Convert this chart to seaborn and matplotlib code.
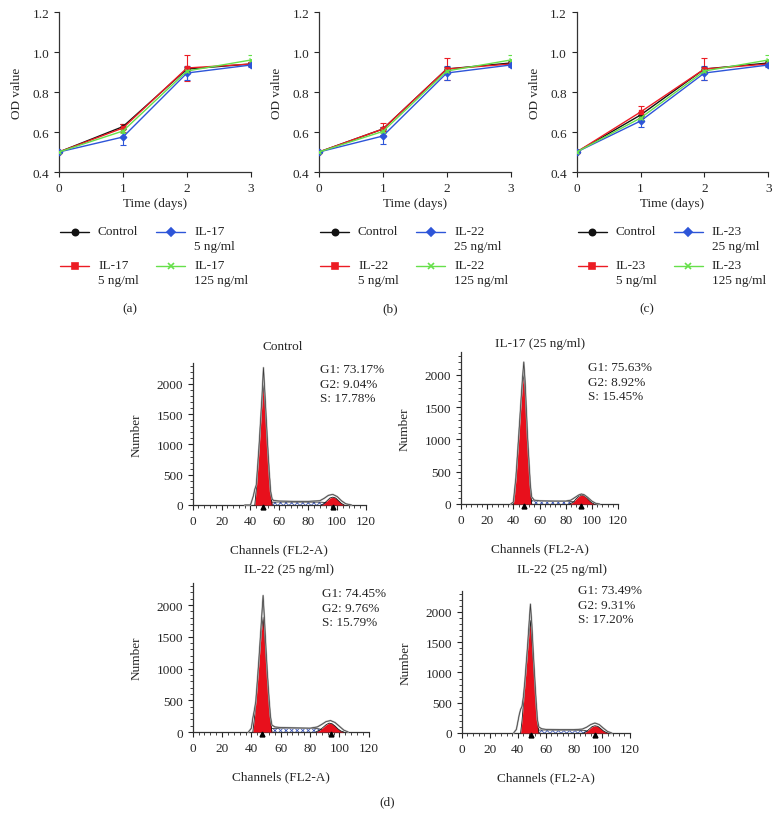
import numpy as np
import pandas as pd
import matplotlib
matplotlib.use('Agg')
import matplotlib.pyplot as plt
from matplotlib.lines import Line2D
from matplotlib.ticker import MultipleLocator
import seaborn as sns

# ---- dados: curvas de proliferacao (OD) ----
days = [0, 1, 2, 3]

a_ctrl = [0.50, 0.627, 0.915, 0.940]
a_low = [0.50, 0.620, 0.920, 0.940]
a_mid = [0.50, 0.575, 0.895, 0.935]
a_high = [0.50, 0.605, 0.905, 0.960]
a_ctrl_err = [0, 0.012, 0.010, 0.010]
a_low_err = [0, 0.020, 0.065, 0.008]
a_mid_err = [0, 0.040, 0.035, 0.008]
a_high_err = [0, 0.010, 0.012, 0.025]

b_ctrl = [0.50, 0.615, 0.915, 0.945]
b_low = [0.50, 0.615, 0.915, 0.940]
b_mid = [0.50, 0.580, 0.895, 0.935]
b_high = [0.50, 0.603, 0.905, 0.960]
b_ctrl_err = [0, 0.010, 0.010, 0.010]
b_low_err = [0, 0.030, 0.055, 0.008]
b_mid_err = [0, 0.040, 0.035, 0.008]
b_high_err = [0, 0.010, 0.012, 0.025]

c_ctrl = [0.50, 0.685, 0.915, 0.945]
c_low = [0.50, 0.700, 0.915, 0.940]
c_mid = [0.50, 0.655, 0.895, 0.935]
c_high = [0.50, 0.670, 0.905, 0.960]
c_ctrl_err = [0, 0.015, 0.010, 0.010]
c_low_err = [0, 0.030, 0.055, 0.008]
c_mid_err = [0, 0.030, 0.035, 0.008]
c_high_err = [0, 0.012, 0.012, 0.025]

a_labels = ['Control', 'IL-17\n5 ng/ml', 'IL-17\n5 ng/ml', 'IL-17\n125 ng/ml']
b_labels = ['Control', 'IL-22\n5 ng/ml', 'IL-22\n25 ng/ml', 'IL-22\n125 ng/ml']
c_labels = ['Control', 'IL-23\n5 ng/ml', 'IL-23\n25 ng/ml', 'IL-23\n125 ng/ml']

# ---- dados: histogramas do ciclo celular ----
ctrl_raw_x = [36, 40, 42, 43, 44, 45, 46, 47, 48, 49, 50, 51, 52, 53, 54, 55, 56, 60, 70, 80, 88, 91, 94, 97, 100, 103, 106, 110]
ctrl_raw_y = [0, 0, 150, 260, 330, 650, 1000, 1400, 1800, 2270, 1850, 1400, 950, 550, 220, 100, 75, 65, 60, 60, 70, 110, 160, 175, 140, 70, 20, 0]
ctrl_g1_x = [43, 44, 45, 46, 47, 48, 49, 50, 51, 52, 53, 54, 55]
ctrl_g1_y = [0, 250, 600, 950, 1350, 1700, 2010, 1700, 1300, 900, 520, 200, 0]
ctrl_g2_x = [89, 91, 93, 95, 97, 99, 101, 103, 105]
ctrl_g2_y = [0, 25, 70, 115, 130, 115, 70, 25, 0]
ctrl_s_x = [47, 50, 54, 60, 70, 80, 88, 93, 97, 100]
ctrl_s_y = [0, 25, 45, 50, 48, 47, 48, 40, 20, 0]
ctrl_peaks = [49, 97]

il17_raw_x = [38, 40, 42, 44, 46, 47, 48, 49, 50, 51, 52, 53, 54, 56, 60, 70, 80, 84, 87, 90, 92, 94, 97, 100, 103, 106]
il17_raw_y = [0, 30, 420, 1020, 1650, 1950, 2200, 1900, 1450, 1000, 650, 300, 110, 60, 50, 45, 45, 60, 100, 140, 155, 145, 100, 45, 10, 0]
il17_g1_x = [40, 41, 42, 43, 44, 45, 46, 47, 48, 49, 50, 51, 52, 53, 54]
il17_g1_y = [0, 150, 400, 700, 1000, 1300, 1600, 1850, 2020, 1750, 1350, 950, 600, 250, 0]
il17_g2_x = [83, 86, 88, 90, 92, 94, 96, 98, 100, 102]
il17_g2_y = [0, 30, 80, 120, 140, 130, 100, 55, 20, 0]
il17_s_x = [45, 50, 54, 60, 70, 80, 86, 90, 95]
il17_s_y = [0, 30, 50, 50, 45, 40, 35, 20, 0]
il17_peaks = [48, 92]

il22_raw_x = [38, 40, 41, 42, 43, 44, 45, 46, 47, 48, 49, 50, 51, 52, 53, 54, 56, 60, 70, 80, 85, 88, 91, 94, 97, 100, 103, 106]
il22_raw_y = [0, 60, 220, 340, 480, 780, 1100, 1450, 1800, 2150, 1750, 1300, 900, 550, 250, 110, 80, 70, 65, 60, 80, 120, 165, 180, 150, 90, 30, 0]
il22_g1_x = [41, 42, 43, 44, 45, 46, 47, 48, 49, 50, 51, 52, 53, 54]
il22_g1_y = [0, 200, 450, 750, 1050, 1350, 1620, 1810, 1550, 1200, 850, 500, 200, 0]
il22_g2_x = [84, 87, 89, 91, 93, 95, 97, 99, 101, 103]
il22_g2_y = [0, 35, 75, 115, 140, 130, 95, 50, 15, 0]
il22_s_x = [44, 48, 52, 60, 70, 80, 86, 90, 95]
il22_s_y = [0, 25, 55, 60, 60, 58, 50, 30, 0]
il22_peaks = [47.5, 94]

il22b_raw_x = [37, 39, 40, 41, 42, 43, 44, 45, 46, 47, 48, 49, 50, 51, 52, 53, 54, 55, 57, 60, 70, 80, 86, 89, 92, 95, 98, 101, 104, 107]
il22b_raw_y = [0, 60, 180, 300, 390, 440, 600, 850, 1150, 1450, 1800, 2130, 1800, 1350, 950, 550, 220, 100, 70, 60, 55, 55, 65, 95, 140, 165, 140, 80, 25, 0]
il22b_g1_x = [42, 43, 44, 45, 46, 47, 48, 49, 50, 51, 52, 53, 54, 55]
il22b_g1_y = [0, 200, 480, 780, 1080, 1380, 1650, 1860, 1550, 1200, 850, 500, 200, 0]
il22b_g2_x = [87, 89, 91, 93, 95, 97, 99, 101, 103, 105]
il22b_g2_y = [0, 25, 65, 105, 120, 110, 75, 35, 10, 0]
il22b_s_x = [47, 52, 56, 60, 70, 80, 87, 91, 96]
il22b_s_y = [0, 35, 50, 50, 45, 45, 45, 25, 0]
il22b_peaks = [49.3, 95.3]

hist_titles = ['Control', 'IL-17 (25 ng/ml)', 'IL-22 (25 ng/ml)', 'IL-22 (25 ng/ml)']
ctrl_pct = ['G1: 73.17%', 'G2: 9.04%', 'S: 17.78%']
il17_pct = ['G1: 75.63%', 'G2: 8.92%', 'S: 15.45%']
il22_pct = ['G1: 74.45%', 'G2: 9.76%', 'S: 15.79%']
il22b_pct = ['G1: 73.49%', 'G2: 9.31%', 'S: 17.20%']

# ---- estilo ----
sns.set_style('ticks')
plt.rcParams['font.family'] = ['Liberation Serif', 'DejaVu Serif']
plt.rcParams['font.size'] = 9.5
plt.rcParams['axes.linewidth'] = 0.9
plt.rcParams['xtick.major.size'] = 3.5
plt.rcParams['ytick.major.size'] = 3.5
plt.rcParams['xtick.minor.size'] = 2
plt.rcParams['ytick.minor.size'] = 2
plt.rcParams['hatch.linewidth'] = 0.6

W, H = 780, 828
cores = ['#111111', '#ec1c24', '#2d55d8', '#66e04a']
marcadores = ['o', 's', 'D', 'x']

fig = plt.figure(figsize=(W / 100, H / 100), dpi=100)


def rect(l, r, t, b):
    return [l / W, 1 - b / H, (r - l) / W, (b - t) / H]


def fx(x):
    return x / W


def fy(y):
    return 1 - y / H


def painel_od(left, right, series, erros, labels, tag, tag_x):
    ax = fig.add_axes(rect(left, right, 13, 173))
    for vals, err, cor, mk in zip(series, erros, cores, marcadores):
        ax.errorbar(days, vals, yerr=err, fmt='none', ecolor=cor, elinewidth=0.8,
                    capsize=2.5, capthick=0.8, zorder=2)
        sns.lineplot(x=days, y=vals, color=cor, marker=mk, markersize=3.3, mec=cor,
                     mew=1, linewidth=1, ax=ax, zorder=3)
    ax.set_xlim(0, 3)
    ax.set_ylim(0.4, 1.2)
    ax.set_xticks([0, 1, 2, 3])
    ax.set_yticks([0.4, 0.6, 0.8, 1.0, 1.2])
    ax.set_yticklabels(['0.4', '0.6', '0.8', '1.0', '1.2'])
    ax.set_xlabel('Time (days)', labelpad=2)
    ax.set_ylabel('OD value', labelpad=7)
    sns.despine(ax=ax)
    for sp in ax.spines.values():
        sp.set_color('#333333')

    # legenda manual (2 colunas)
    pos = [(0, 233), (0, 267), (1, 233), (1, 267)]
    for (col, y), lab, cor, mk in zip(pos, labels, cores, marcadores):
        x0 = left + 1 + col * 96
        x1 = x0 + 29
        fig.add_artist(Line2D([fx(x0), fx(x1)], [fy(y), fy(y)], color=cor, lw=1,
                              transform=fig.transFigure))
        fig.add_artist(Line2D([fx((x0 + x1) / 2)], [fy(y)], color=cor, marker=mk,
                              ms=4.5, mec=cor, mew=1.2, transform=fig.transFigure))
        fig.text(fx(x1 + 9), fy(y - 7), lab, va='top', ha='left', linespacing=1.35)
    fig.text(fx(tag_x), fy(309), tag, ha='center', va='center')
    return ax


painel_od(59, 251, [a_ctrl, a_low, a_mid, a_high],
          [a_ctrl_err, a_low_err, a_mid_err, a_high_err], a_labels, '(a)', 130)
painel_od(319, 510.7, [b_ctrl, b_low, b_mid, b_high],
          [b_ctrl_err, b_low_err, b_mid_err, b_high_err], b_labels, '(b)', 390)
painel_od(576.7, 768.3, [c_ctrl, c_low, c_mid, c_high],
          [c_ctrl_err, c_low_err, c_mid_err, c_high_err], c_labels, '(c)', 647)


def painel_hist(box, raw, g1, g2, s, peaks, titulo, tit_xy, pct, pct_xy):
    ax = fig.add_axes(rect(*box))
    ax.fill_between(s[0], s[1], 0, facecolor='white', edgecolor='#3d58b8',
                    hatch='xxxxxx', linewidth=0, zorder=1)
    ax.plot(s[0], s[1], color='#333333', lw=0.6, zorder=2)
    for xs, ys in (g1, g2):
        ax.fill_between(xs, ys, 0, color='#e8101c', linewidth=0, zorder=3)
        ax.plot(xs, ys, color='#1a1a1a', lw=0.6, zorder=4)
    sns.lineplot(x=raw[0], y=raw[1], color='#b5b5b5', lw=1.3, ax=ax, zorder=5,
                 sort=False)
    sns.lineplot(x=raw[0], y=raw[1], color='#3a3a3a', lw=0.5, ax=ax, zorder=6,
                 sort=False)
    for ln in ax.lines:
        ln.set_clip_on(False)
    ax.plot(peaks, [-25] * len(peaks), '^', color='black', ms=3.5, clip_on=False,
            zorder=7)
    ax.set_xlim(0, 120)
    ax.set_ylim(0, 2350)
    ax.set_xticks(np.arange(0, 121, 20))
    ax.set_yticks([0, 500, 1000, 1500, 2000])
    ax.xaxis.set_minor_locator(MultipleLocator(4))
    ax.yaxis.set_minor_locator(MultipleLocator(100))
    ax.set_xlabel('Channels (FL2-A)', labelpad=12)
    ax.set_ylabel('Number', labelpad=10)
    sns.despine(ax=ax)
    for sp in ax.spines.values():
        sp.set_color('#333333')
    fig.text(fx(tit_xy[0]), fy(tit_xy[1]), titulo, ha='center', va='center')
    for i, t in enumerate(pct):
        fig.text(fx(pct_xy[0]), fy(pct_xy[1] + 14.7 * i), t, ha='left', va='center')
    return ax


painel_hist((192.7, 366, 363.8, 506), (ctrl_raw_x, ctrl_raw_y), (ctrl_g1_x, ctrl_g1_y),
            (ctrl_g2_x, ctrl_g2_y), (ctrl_s_x, ctrl_s_y), ctrl_peaks,
            hist_titles[0], (283, 347), ctrl_pct, (320, 370))
painel_hist((461, 618, 353.4, 505), (il17_raw_x, il17_raw_y), (il17_g1_x, il17_g1_y),
            (il17_g2_x, il17_g2_y), (il17_s_x, il17_s_y), il17_peaks,
            hist_titles[1], (540, 344), il17_pct, (588, 368))
painel_hist((192.7, 368.7, 583.8, 733), (il22_raw_x, il22_raw_y), (il22_g1_x, il22_g1_y),
            (il22_g2_x, il22_g2_y), (il22_s_x, il22_s_y), il22_peaks,
            hist_titles[2], (289, 570), il22_pct, (322, 594))
painel_hist((461.7, 630, 591.8, 734), (il22b_raw_x, il22b_raw_y), (il22b_g1_x, il22b_g1_y),
            (il22b_g2_x, il22b_g2_y), (il22b_s_x, il22b_s_y), il22b_peaks,
            hist_titles[3], (562, 570), il22b_pct, (578, 591))

fig.text(fx(387), fy(802), '(d)', ha='center', va='center')

fig.savefig('out.png', dpi=100, facecolor='white')
